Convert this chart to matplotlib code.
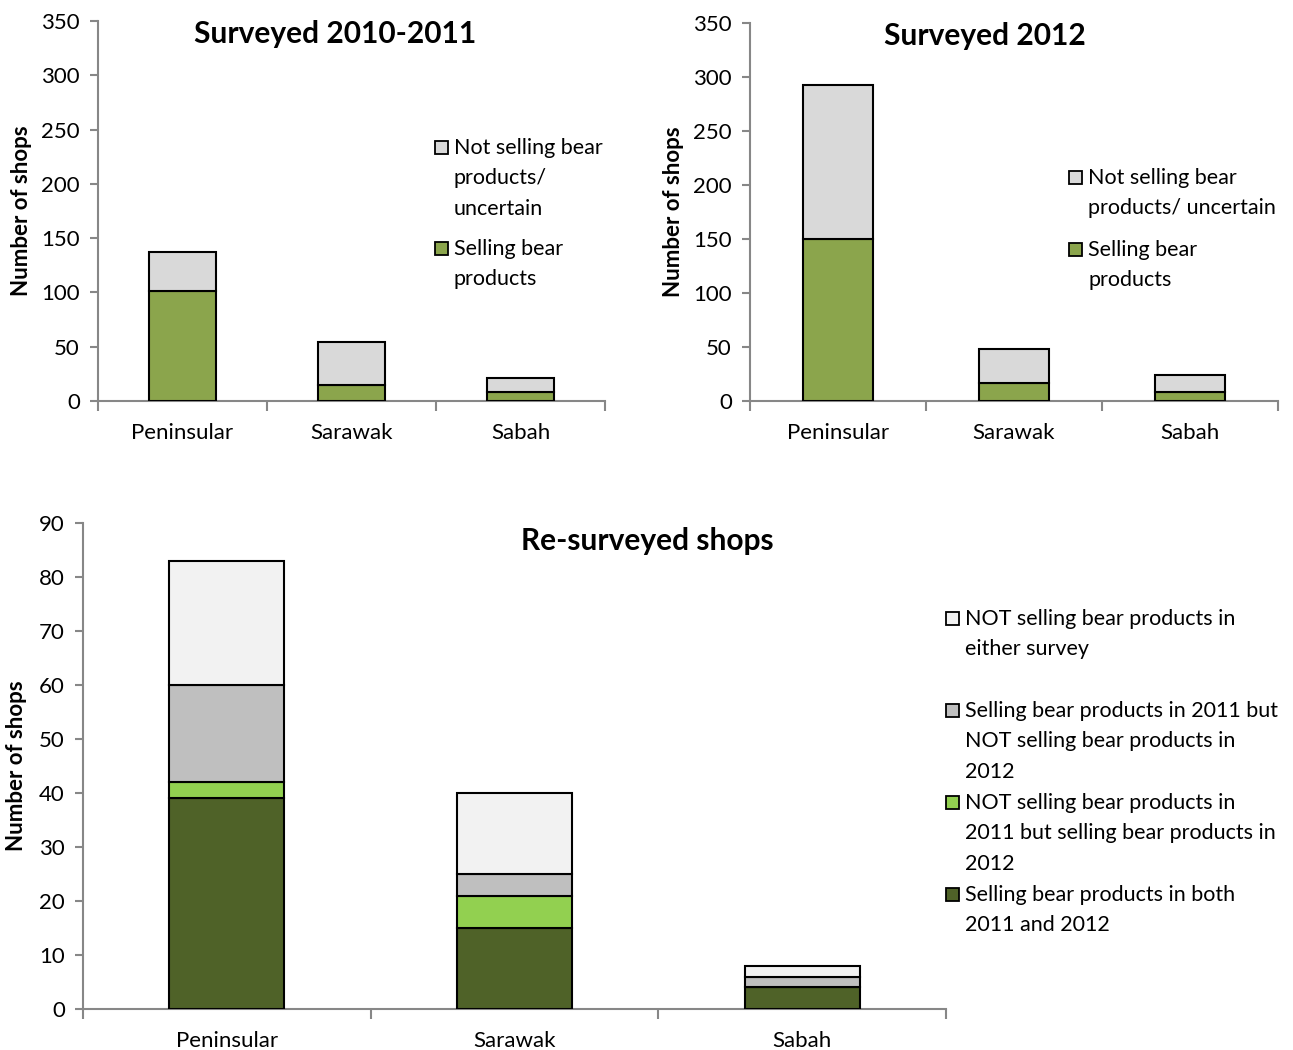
import numpy as np
import matplotlib
matplotlib.use("Agg")
from matplotlib import pyplot as plt
from matplotlib.patches import Rectangle

plt.rcParams['font.family'] = ['Lato', 'DejaVu Sans']

regions = ['Peninsular', 'Sarawak', 'Sabah']

# surveyed 2010-2011
sell_1011 = [101, 15, 8]
notsell_1011 = [36, 39, 13]

# surveyed 2012
sell_2012 = [150, 17, 8]
notsell_2012 = [143, 31, 16]

# re-surveyed shops
both_years = [39, 15, 4]
only_2012 = [3, 6, 0]
only_2011 = [18, 4, 2]
neither = [23, 15, 2]

GREEN = '#8BA54C'
GREY = '#D9D9D9'
DKGREEN = '#4F6228'
LTGREEN = '#92D050'
MIDGREY = '#BFBFBF'
PALE = '#F2F2F2'
SPINE = '#878787'

W, H = 1293, 1050
FS = 16
LFS = 15.5


def px(x0, y0, x1, y1):
  # pixel box -> figure fraction rect
  return [x0 / W, 1 - y1 / H, (x1 - x0) / W, (y1 - y0) / H]


def style(ax, ymax, step):
  ax.set_xlim(-0.5, 2.5)
  ax.set_ylim(0, ymax)
  for s in ['top', 'right']:
    ax.spines[s].set_visible(False)
  for s in ['left', 'bottom']:
    ax.spines[s].set_color(SPINE)
    ax.spines[s].set_linewidth(1.5)
  ax.set_yticks(np.arange(0, ymax + 1, step))
  ax.tick_params(axis='y', length=6, width=1.5, color=SPINE, labelsize=FS, pad=7)
  ax.set_xticks([-0.5, 0.5, 1.5, 2.5])
  ax.set_xticklabels([])
  ax.tick_params(axis='x', which='major', length=7, width=1.5, color=SPINE)
  ax.set_xticks([0, 1, 2], minor=True)
  ax.set_xticklabels(regions, minor=True)
  ax.tick_params(axis='x', which='minor', length=0, labelsize=FS, pad=16)
  ax.set_ylabel('Number of shops', fontsize=FS, fontweight='bold')


def stack(ax, layers):
  x = np.arange(len(regions))
  bottom = np.zeros(len(regions))
  for vals, col in layers:
    ax.bar(x, vals, 0.4, bottom=bottom, color=col, edgecolor='black', linewidth=1.5, zorder=3)
    bottom = bottom + np.array(vals)


def legend(fig, x, y, step, entries):
  for i, (col, lab) in enumerate(entries):
    yy = y + i * step
    fig.patches.append(Rectangle((x / W, 1 - (yy + 7) / H), 13 / W, 13 / H,
                                 transform=fig.transFigure, facecolor=col,
                                 edgecolor='black', linewidth=1.3))
    fig.text((x + 19) / W, 1 - (yy - 9) / H, lab, fontsize=LFS, va='top',
             ha='left', linespacing=1.65)


fig = plt.figure(figsize=(W / 100, H / 100), dpi=100)

ax1 = fig.add_axes(px(98, 21, 605, 401))
stack(ax1, [(sell_1011, GREEN), (notsell_1011, GREY)])
style(ax1, 350, 50)
ax1.yaxis.set_label_coords(-0.13, 0.5)
fig.text(335 / W, 1 - 34 / H, 'Surveyed 2010-2011', fontsize=21.5, fontweight='bold',
         ha='center', va='center')
legend(fig, 435, 147, 101, [(GREY, 'Not selling bear\nproducts/\nuncertain'),
                            (GREEN, 'Selling bear\nproducts')])

ax2 = fig.add_axes(px(750, 23, 1278, 401))
stack(ax2, [(sell_2012, GREEN), (notsell_2012, GREY)])
style(ax2, 350, 50)
ax2.yaxis.set_label_coords(-0.125, 0.5)
fig.text(985 / W, 1 - 36 / H, 'Surveyed 2012', fontsize=21.5, fontweight='bold',
         ha='center', va='center')
legend(fig, 1069, 177, 72, [(GREY, 'Not selling bear\nproducts/ uncertain'),
                            (GREEN, 'Selling bear\nproducts')])

ax3 = fig.add_axes(px(83, 523, 946, 1009))
stack(ax3, [(both_years, DKGREEN), (only_2012, LTGREEN), (only_2011, MIDGREY), (neither, PALE)])
style(ax3, 90, 10)
ax3.yaxis.set_label_coords(-0.065, 0.5)
fig.text(647 / W, 1 - 541 / H, 'Re-surveyed shops', fontsize=21.5, fontweight='bold',
         ha='center', va='center')
legend(fig, 946, 618, 92, [
  (PALE, 'NOT selling bear products in\neither survey'),
  (MIDGREY, 'Selling bear products in 2011 but\nNOT selling bear products in\n2012'),
  (LTGREEN, 'NOT selling bear products in\n2011 but selling bear products in\n2012'),
  (DKGREEN, 'Selling bear products in both\n2011 and 2012'),
])

plt.savefig('out.png', dpi=100)
